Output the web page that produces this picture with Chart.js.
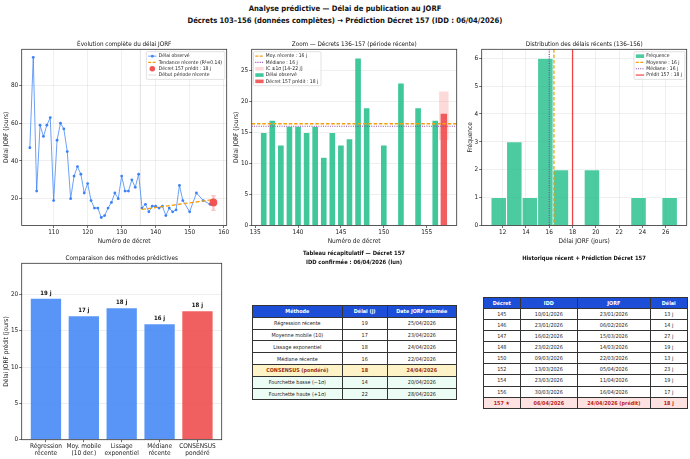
<!DOCTYPE html>
<html lang="fr">
<head>
<meta charset="UTF-8">
<title>Analyse prédictive — Délai de publication au JORF</title>
<script src="https://cdn.jsdelivr.net/npm/chart.js@4"></script>
<style>
  body { margin: 0; width: 690px; height: 459px; background: #fff; position: relative; overflow: hidden;
         font-family: "Liberation Sans Narrow", "DejaVu Sans Condensed", "DejaVu Sans", sans-serif; color: #111; }
  canvas { position: absolute; }
  .ttl { position: absolute; text-align: center; font-weight: bold; white-space: nowrap; }
  #sup { top: 3px; left: 0; width: 690px; font-size: 7.6px; line-height: 12px; }
  table.t { position: absolute; border-collapse: collapse; table-layout: fixed; font-size: 5.4px; color: #222; }
  table.t td { border: 0.8px solid #333; text-align: center; padding: 0; white-space: nowrap; overflow: hidden; }
  table.t tr.h td { background: #1d4ed8; color: #fff; font-weight: bold; }
  tr.cons td { background: #fef3c7; color: #9a3412; font-weight: bold; }
  tr.band td { background: #ecfdf5; }
  tr.pred td { background: #fee2e2; color: #b91c1c; font-weight: bold; }
</style>
</head>
<body>
<div id="sup" class="ttl">Analyse prédictive — Délai de publication au JORF<br>Décrets 103–156 (données complètes) → Prédiction Décret 157 (IDD : 06/04/2026)</div>

<canvas id="c1" width="232" height="216" style="left:0;top:38px"></canvas>
<canvas id="c2" width="228" height="216" style="left:232px;top:38px"></canvas>
<canvas id="c3" width="228" height="216" style="left:462px;top:38px"></canvas>
<canvas id="c4" width="232" height="207" style="left:0;top:252px"></canvas>

<div class="ttl" style="left:254px;top:249px;width:200px;font-size:5.8px;line-height:9px">Tableau récapitulatif — Décret 157<br>IDD confirmée : 06/04/2026 (lun)</div>
<div class="ttl" style="left:484px;top:254px;width:200px;font-size:5.8px;line-height:9px">Historique récent + Prédiction Décret 157</div>
<table class="t" id="t1" style="left:252px;top:305px;width:204px"></table>
<table class="t" id="t2" style="left:483px;top:297px;width:204px"></table>

<script>
// ---- données ----
const decrets = [103,104,105,106,107,108,109,110,111,112,113,114,115,116,117,118,119,120,121,122,
                 123,124,125,126,127,128,129,130,131,132,133,134,135,136,137,138,139,140,141,142,
                 143,144,145,146,147,148,150,152,154,156];
const delais  = [47,95,24,59,53,59,63,19,51,60,57,45,20,32,37,33,23,28,19,15,
                 15,10,11,15,18,23,20,32,24,24,30,26,33,15,17,13,16,16,15,16,
                 11,15,13,14,27,19,13,23,19,17];
const debutRecent = 136;
const trendX = [136, 157];
const trendY = [14.3, 19.5];
const pred157 = 18;
const icBas = 13.8, icHaut = 21.6;
const moyRecente = 16.4, medRecente = 16;

const binEdges = [11, 12.33, 13.67, 15, 16.33, 17.67, 19, 20.33, 21.67, 23, 24.33, 25.67, 27];
const binCounts = [1, 3, 1, 6, 2, 0, 2, 0, 0, 1, 0, 1];

const methodes = [['Régression', 'récente'], ['Moy. mobile', '(10 der.)'], ['Lissage', 'exponentiel'], ['Médiane', 'récente'], ['CONSENSUS', 'pondéré']];
const methodesVal = [19.4, 17.0, 18.1, 15.9, 17.7];
const methodesTxt = ['19 j', '17 j', '18 j', '16 j', '18 j'];

const ticks1X = [110, 120, 130, 140, 150, 160], ticks1Y = [20, 40, 60, 80];
const ticks2X = [135, 140, 145, 150, 155],      ticks2Y = [0, 5, 10, 15, 20, 25];
const ticks3X = [12, 14, 16, 18, 20, 22, 24, 26], ticks3Y = [0, 1, 2, 3, 4, 5, 6];
const ticks4Y = [0, 5, 10, 15, 20];

const recapHead = ['Méthode', 'Délai (j)', 'Date JORF estimée'];
const recapRows = [
  ['Régression récente', '19', '25/04/2026'],
  ['Moyenne mobile (10)', '17', '23/04/2026'],
  ['Lissage exponentiel', '18', '24/04/2026'],
  ['Médiane récente', '16', '22/04/2026'],
  ['CONSENSUS (pondéré)', '18', '24/04/2026'],
  ['Fourchette basse (−1σ)', '14', '20/04/2026'],
  ['Fourchette haute (+1σ)', '22', '28/04/2026']
];
const histHead = ['Décret', 'IDD', 'JORF', 'Délai'];
const histRows = [
  ['145', '10/01/2026', '23/01/2026', '13 j'],
  ['146', '23/01/2026', '06/02/2026', '14 j'],
  ['147', '16/02/2026', '15/03/2026', '27 j'],
  ['148', '23/02/2026', '14/03/2026', '19 j'],
  ['150', '09/03/2026', '22/03/2026', '13 j'],
  ['152', '13/03/2026', '05/04/2026', '23 j'],
  ['154', '23/03/2026', '11/04/2026', '19 j'],
  ['156', '30/03/2026', '16/04/2026', '17 j'],
  ['157 ★', '06/04/2026', '24/04/2026 (prédit)', '18 j']
];

// ---- style ----
const FONT = '"Liberation Sans Narrow", "DejaVu Sans Condensed", "DejaVu Sans", sans-serif';
const BLUE = '#3b82f6', GREEN = '#10b981', RED = '#ef4444', ORANGE = '#f59e0b', PURPLE = '#8e44ad';
const GRID = 'rgba(0,0,0,0.09)';
Chart.defaults.font.family = FONT;
Chart.defaults.font.size = 6.4;
Chart.defaults.color = '#222';
Chart.defaults.animation = false;
Chart.defaults.responsive = false;
Chart.defaults.plugins.legend.display = false;
Chart.defaults.plugins.tooltip.enabled = false;

function scaleX(min, max, ticks, title, grid, h) {
  return {
    type: 'linear', min, max, offset: false,
    afterBuildTicks: s => { s.ticks = ticks.map(v => ({ value: v })); },
    afterFit: s => { s.height = h; },
    ticks: { padding: 1, maxRotation: 0, autoSkip: false },
    grid: { drawOnChartArea: grid, color: GRID, lineWidth: 0.7, tickColor: '#333', tickLength: 2.5, offset: false },
    border: { display: false },
    title: { display: !!title, text: title, font: { size: 6.5 }, padding: 0 }
  };
}
function scaleY(min, max, ticks, title, grid, w) {
  return {
    min, max,
    afterBuildTicks: s => { s.ticks = ticks.map(v => ({ value: v })); },
    afterFit: s => { s.width = w; },
    ticks: { padding: 1 },
    grid: { drawOnChartArea: grid, color: GRID, lineWidth: 0.7, tickColor: '#333', tickLength: 2.5 },
    border: { display: false },
    title: { display: true, text: title, font: { size: 6.5 }, padding: 0 }
  };
}

function refLine(ctx, a, scale, l, vertical) {
  const p = scale.getPixelForValue(l.value);
  ctx.beginPath();
  ctx.setLineDash(l.dash || []);
  ctx.strokeStyle = l.color;
  ctx.lineWidth = l.width || 1;
  if (vertical) { ctx.moveTo(p, a.top); ctx.lineTo(p, a.bottom); }
  else { ctx.moveTo(a.left, p); ctx.lineTo(a.right, p); }
  ctx.stroke();
}

function drawLegend(ctx, a, lg) {
  const fs = 5, rowH = 6.3, handle = 8.3, padX = 1.8, gap = 2.2;
  ctx.save();
  ctx.font = fs + 'px ' + FONT;
  const tw = Math.max(...lg.items.map(it => ctx.measureText(it.label).width));
  const w = padX + handle + gap + tw + padX + 1;
  const h = rowH * lg.items.length + 2.5;
  const x = lg.align === 'left' ? a.left + 1.8 : a.right - 1.8 - w;
  const y = a.top + 2.4;
  ctx.fillStyle = 'rgba(255,255,255,0.85)';
  ctx.strokeStyle = '#cccccc';
  ctx.lineWidth = 0.6;
  ctx.beginPath();
  ctx.roundRect(x, y, w, h, 1.2);
  ctx.fill(); ctx.stroke();
  lg.items.forEach((it, i) => {
    const cy = y + 1.3 + rowH * (i + 0.5);
    const hx = x + padX;
    if (it.kind === 'line') {
      ctx.beginPath();
      ctx.setLineDash(it.dash || []);
      ctx.strokeStyle = it.color; ctx.lineWidth = it.width || 1;
      ctx.moveTo(hx, cy); ctx.lineTo(hx + handle, cy); ctx.stroke();
      ctx.setLineDash([]);
      if (it.marker) {
        ctx.fillStyle = it.marker;
        ctx.beginPath(); ctx.arc(hx + handle / 2, cy, 1.3, 0, Math.PI * 2); ctx.fill();
      }
    } else if (it.kind === 'rect') {
      ctx.fillStyle = it.color;
      ctx.fillRect(hx, cy - 1.8, handle, 3.6);
    } else if (it.kind === 'dot') {
      ctx.fillStyle = it.color;
      ctx.beginPath(); ctx.arc(hx + handle / 2, cy, 2.8, 0, Math.PI * 2); ctx.fill();
    }
    ctx.fillStyle = '#222';
    ctx.textBaseline = 'middle';
    ctx.fillText(it.label, hx + handle + gap, cy);
  });
  ctx.restore();
}

function deco(cfg) {
  return {
    id: 'deco',
    beforeDatasetsDraw(chart) {
      const { ctx, chartArea: a, scales } = chart;
      ctx.save();
      (cfg.vlinesBehind || []).forEach(l => refLine(ctx, a, scales.x, l, true));
      ctx.restore();
    },
    afterDatasetsDraw(chart) {
      const { ctx, chartArea: a, scales } = chart;
      ctx.save();
      ctx.beginPath(); ctx.rect(a.left, a.top, a.right - a.left, a.bottom - a.top); ctx.clip();
      (cfg.hlines || []).forEach(l => refLine(ctx, a, scales.y, l, false));
      (cfg.vlines || []).forEach(l => refLine(ctx, a, scales.x, l, true));
      ctx.restore();
      if (cfg.valueLabels) {
        const meta = chart.getDatasetMeta(0);
        ctx.save();
        ctx.font = 'bold 6px ' + FONT;
        ctx.fillStyle = '#111'; ctx.textAlign = 'center'; ctx.textBaseline = 'bottom';
        meta.data.forEach((bar, i) => ctx.fillText(cfg.valueLabels[i], bar.x, bar.y - 2.6));
        ctx.restore();
      }
    },
    afterDraw(chart) {
      const { ctx, chartArea: a } = chart;
      ctx.save();
      ctx.strokeStyle = '#333'; ctx.lineWidth = 0.8;
      ctx.strokeRect(a.left, a.top, a.right - a.left, a.bottom - a.top);
      ctx.font = '6.3px ' + FONT;
      ctx.fillStyle = '#111'; ctx.textAlign = 'center'; ctx.textBaseline = 'middle';
      ctx.fillText(cfg.title, (a.left + a.right) / 2, a.top - 4.8);
      ctx.restore();
      if (cfg.legend) drawLegend(ctx, a, cfg.legend);
    }
  };
}

// ---- 1 : évolution complète ----
const obsPts = decrets.map((d, i) => ({ x: d, y: delais[i] }));
new Chart(document.getElementById('c1'), {
  type: 'line',
  data: { datasets: [
    { data: [{ x: 157, y: pred157 }], showLine: false, pointRadius: 3.9, pointBackgroundColor: 'rgba(239,68,68,0.9)', pointBorderWidth: 0, order: 0 },
    { data: [{ x: 157, y: icBas }, { x: 157, y: icHaut }], borderColor: 'rgba(239,68,68,0.3)', borderWidth: 2.4,
      pointStyle: 'line', pointRadius: 2.4, pointBorderColor: 'rgba(239,68,68,0.3)', pointBorderWidth: 1, order: 1 },
    { data: trendX.map((x, i) => ({ x, y: trendY[i] })), borderColor: ORANGE, borderWidth: 1.3, borderDash: [4, 2], pointRadius: 0, order: 2 },
    { data: obsPts, borderColor: 'rgba(59,130,246,0.75)', borderWidth: 1, pointRadius: 1.4, pointBackgroundColor: BLUE, pointBorderWidth: 0, order: 3 }
  ] },
  options: {
    layout: { padding: { left: 2.3, top: 11.3, right: 5.3, bottom: 8.8 } },
    scales: {
      x: scaleX(100.6, 160.9, ticks1X, 'Numéro de décret', true, 19.7),
      y: scaleY(5.75, 99.25, ticks1Y, 'Délai JORF (jours)', true, 19.4)
    }
  },
  plugins: [deco({
    title: 'Évolution complète du délai JORF',
    vlinesBehind: [{ value: debutRecent - 0.5, color: 'rgba(150,150,150,0.35)', width: 0.8 }],
    legend: { align: 'right', items: [
      { kind: 'line', color: 'rgba(59,130,246,0.75)', marker: BLUE, label: 'Délai observé' },
      { kind: 'line', color: ORANGE, dash: [3, 1.5], width: 1.2, label: 'Tendance récente (R²=0.14)' },
      { kind: 'dot', color: 'rgba(239,68,68,0.9)', label: `Décret 157 prédit : ${pred157} j` },
      { kind: 'line', color: 'rgba(150,150,150,0.4)', width: 0.8, label: 'Début période récente' }
    ] }
  })]
});

// ---- 2 : zoom période récente ----
const recentPts = obsPts.filter(p => p.x >= debutRecent);
new Chart(document.getElementById('c2'), {
  type: 'bar',
  data: { datasets: [
    { data: [{ x: 157, y: [icBas, icHaut] }], backgroundColor: 'rgba(239,68,68,0.2)', barPercentage: 1.1, categoryPercentage: 1, grouped: false, order: 0 },
    { data: [{ x: 157, y: pred157 }], backgroundColor: 'rgba(239,68,68,0.85)', barPercentage: 0.75, categoryPercentage: 1, grouped: false, order: 1 },
    { data: recentPts, backgroundColor: 'rgba(16,185,129,0.8)', borderColor: 'rgba(255,255,255,0.5)', borderWidth: 0.6,
      barPercentage: 0.8, categoryPercentage: 1, grouped: false, order: 2 }
  ] },
  options: {
    layout: { padding: { left: 0.3, top: 11.3, right: 3.3, bottom: 8.8 } },
    scales: {
      x: scaleX(134.6, 158.5, ticks2X, 'Numéro de décret', false, 19.7),
      y: scaleY(0, 28.4, ticks2Y, 'Délai JORF (jours)', true, 19.4)
    }
  },
  plugins: [deco({
    title: 'Zoom — Décrets 136–157 (période récente)',
    hlines: [
      { value: moyRecente, color: ORANGE, dash: [3.5, 1.8], width: 1.3 },
      { value: medRecente, color: PURPLE, dash: [1, 1.3], width: 1.2 }
    ],
    legend: { align: 'left', items: [
      { kind: 'line', color: ORANGE, dash: [3, 1.5], width: 1.2, label: `Moy. récente : ${Math.round(moyRecente)} j` },
      { kind: 'line', color: PURPLE, dash: [1, 1.2], width: 1.2, label: `Médiane : ${medRecente} j` },
      { kind: 'rect', color: 'rgba(239,68,68,0.2)', label: `IC ±1σ [${Math.round(icBas)}–${Math.round(icHaut)} j]` },
      { kind: 'rect', color: 'rgba(16,185,129,0.8)', label: 'Délai observé' },
      { kind: 'rect', color: 'rgba(239,68,68,0.85)', label: `Décret 157 prédit : ${pred157} j` }
    ] }
  })]
});

// ---- 3 : distribution ----
const histPts = binCounts.map((c, i) => ({ x: (binEdges[i] + binEdges[i + 1]) / 2, y: c }));
new Chart(document.getElementById('c3'), {
  type: 'bar',
  data: { datasets: [
    { data: histPts, backgroundColor: 'rgba(16,185,129,0.75)', borderColor: '#ffffff', borderWidth: 0.8,
      barPercentage: 1, categoryPercentage: 1 }
  ] },
  options: {
    layout: { padding: { left: 4.3, top: 11.3, right: 3.3, bottom: 8.8 } },
    scales: {
      x: scaleX(10.2, 27.8, ticks3X, 'Délai JORF (jours)', true, 19.7),
      y: scaleY(0, 6.32, ticks3Y, 'Fréquence', true, 15.4)
    }
  },
  plugins: [deco({
    title: 'Distribution des délais récents (136–156)',
    vlines: [
      { value: medRecente, color: PURPLE, dash: [1, 1.3], width: 1.2 },
      { value: moyRecente, color: ORANGE, dash: [3.5, 1.8], width: 1.3 },
      { value: pred157, color: RED, width: 1.3 }
    ],
    legend: { align: 'right', items: [
      { kind: 'rect', color: 'rgba(16,185,129,0.75)', label: 'Fréquence' },
      { kind: 'line', color: ORANGE, dash: [3, 1.5], width: 1.2, label: `Moyenne : ${Math.round(moyRecente)} j` },
      { kind: 'line', color: PURPLE, dash: [1, 1.2], width: 1.2, label: `Médiane : ${medRecente} j` },
      { kind: 'line', color: RED, width: 1.2, label: `Prédit 157 : ${pred157} j` }
    ] }
  })]
});

// ---- 4 : comparaison des méthodes ----
new Chart(document.getElementById('c4'), {
  type: 'bar',
  data: { datasets: [
    { data: methodesVal.map((v, i) => ({ x: i, y: v })),
      backgroundColor: methodesVal.map((v, i) => i === methodesVal.length - 1 ? 'rgba(239,68,68,0.85)' : 'rgba(59,130,246,0.85)'),
      barPercentage: 0.8, categoryPercentage: 1 }
  ] },
  options: {
    layout: { padding: { left: 2.3, top: 11.3, right: 10.3, bottom: 0 } },
    scales: {
      x: Object.assign(scaleX(-0.64, 4.64, methodes.map((m, i) => i), '', false, 19.3),
        { ticks: { padding: 0, maxRotation: 0, autoSkip: false, font: { size: 6.5, lineHeight: 1.12 }, callback: v => methodes[v] } }),
      y: scaleY(0, 24.3, ticks4Y, 'Délai JORF prédit (jours)', true, 19.4)
    }
  },
  plugins: [deco({ title: 'Comparaison des méthodes prédictives', valueLabels: methodesTxt })]
});

// ---- tableaux ----
function fillTable(id, head, rows, widths, rowH, cls) {
  const t = document.getElementById(id);
  const cg = document.createElement('colgroup');
  widths.forEach(w => { const c = document.createElement('col'); c.style.width = w + 'px'; cg.appendChild(c); });
  t.appendChild(cg);
  [head].concat(rows).forEach((r, i) => {
    const tr = document.createElement('tr');
    if (i === 0) tr.className = 'h';
    else if (cls[i - 1]) tr.className = cls[i - 1];
    r.forEach(txt => {
      const td = document.createElement('td');
      td.textContent = txt;
      td.style.height = (rowH - 0.8) + 'px';
      tr.appendChild(td);
    });
    t.appendChild(tr);
  });
}
fillTable('t1', recapHead, recapRows, [89.7, 45, 69.3], 11.6, ['', '', '', '', 'cons', 'band', 'band']);
fillTable('t2', histHead, histRows, [36.6, 57.4, 72.6, 37.4], 10.87, ['', '', '', '', '', '', '', '', 'pred']);
</script>
</body>
</html>
